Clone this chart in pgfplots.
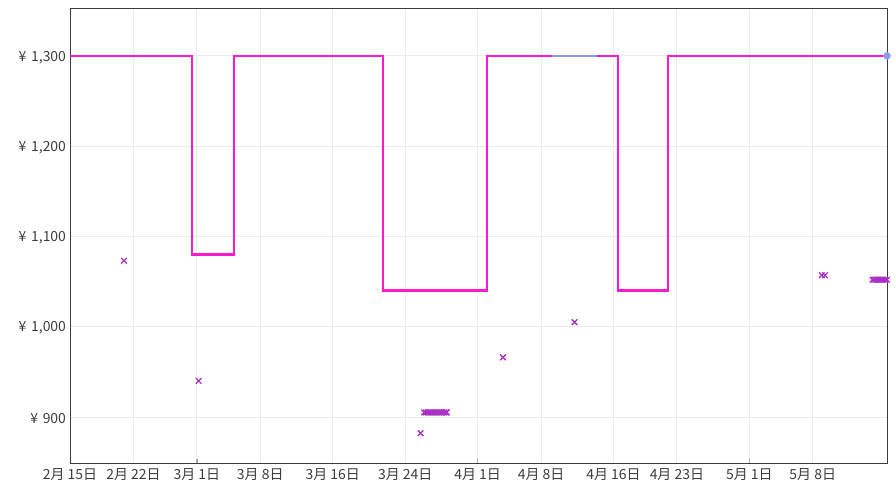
\documentclass[border=0pt]{standalone}
\usepackage{pgfplots}
\pgfplotsset{compat=1.18}
\usepackage{fontspec}
\setmainfont{Noto Sans CJK SC}
\definecolor{pinkline}{RGB}{255,25,205}
\definecolor{blueline}{RGB}{140,155,230}
\definecolor{purplemark}{RGB}{170,50,195}
\definecolor{gridc}{RGB}{236,236,236}
\definecolor{axisc}{RGB}{60,60,60}
\definecolor{textc}{RGB}{60,60,60}
\begin{document}
\begin{tikzpicture}[x=1bp,y=1bp]
\useasboundingbox (0,0) rectangle (895,483);
\begin{axis}[
  at={(70bp,20bp)}, anchor=south west,
  scale only axis, width=817bp, height=455bp,
  xmin=0, xmax=90.2, ymin=849, ymax=1353,
  clip=false,
  axis line style={axisc, line width=0.9pt},
  grid=major, grid style={gridc, line width=0.8pt},
  major tick length=0pt,
  tick pos=bottom,
  xtick={0,7,14,21,29,37,45,52,60,67,75,82},
  xticklabels={2月 15日,2月 22日,3月 1日,3月 8日,3月 16日,3月 24日,4月 1日,4月 8日,4月 16日,4月 23日,5月 1日,5月 8日},
  ytick={900,1000,1100,1200,1300},
  yticklabels={{¥\,\,900},{¥\,\,1,000},{¥\,\,1,100},{¥\,\,1,200},{¥\,\,1,300}},
  ticklabel style={font=\fontsize{14}{16}\selectfont, text=textc},
  xticklabel style={yshift=-2.5bp},
  yticklabel style={xshift=-0.5bp, yshift=-1.5bp},
  extra x ticks={14,45,75},
  extra x tick labels={},
  extra x tick style={grid=none, major tick length=4bp, tick style={gray!70, line width=1.6pt}, tick align=inside},
]
\addplot[pinkline, line width=2.4bp] coordinates {
(0,1300) (13.47,1300) (13.47,1080) (18.1,1080) (18.1,1300) (34.55,1300) (34.55,1040) (46.03,1040) (46.03,1300) (60.5,1300) (60.5,1040) (66.0,1040) (66.0,1300) (90.2,1300)};
\addplot[blueline, line width=2.4bp] coordinates {(53.2,1300) (58.2,1300)};
\addplot[only marks, mark=*, mark size=3.5bp, blueline, mark options={draw=none, fill=blueline}] coordinates {(90.2,1300)};
\addplot[only marks, mark=x, mark size=4bp, purplemark, line width=1.3pt] coordinates {
(5.96,1073) (14.2,940) (38.7,882) (47.8,966) (55.7,1005)
(39.1,905) (39.3,905) (39.5,905) (39.7,905) (39.9,905) (40.1,905) (40.3,905) (40.5,905) (40.7,905) (40.9,905) (41.1,905) (41.3,905) (41.5,905) (41.6,905)
(83.0,1057) (83.35,1057)
(88.6,1052) (88.8,1052) (89.0,1052) (89.2,1052) (89.4,1052) (89.6,1052) (89.8,1052) (90.0,1052) (90.2,1052)};
\end{axis}
\end{tikzpicture}
\end{document}
